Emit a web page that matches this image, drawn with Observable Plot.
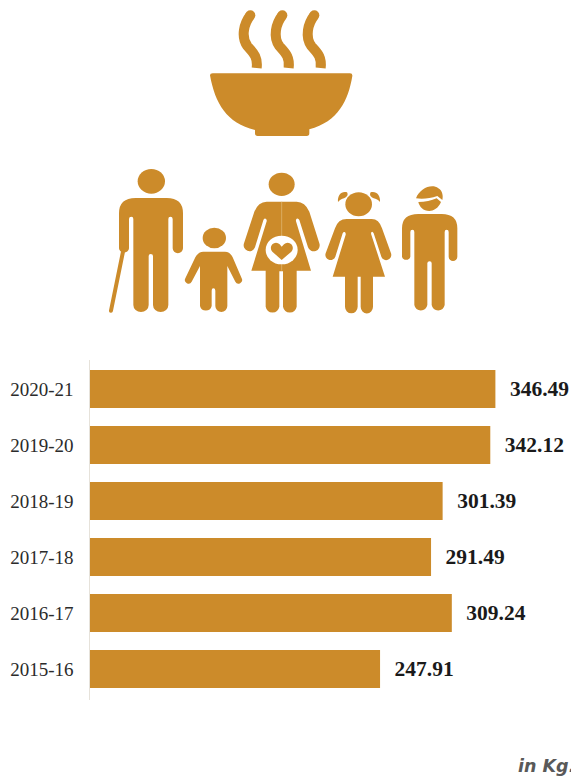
<!DOCTYPE html>
<html>
<head>
<meta charset="utf-8">
<script src="https://cdn.jsdelivr.net/npm/d3@7"></script>
<script src="https://cdn.jsdelivr.net/npm/@observablehq/plot@0.6"></script>
<style>
html,body{margin:0;padding:0;background:#fff;}
#page{position:relative;width:571px;height:781px;overflow:hidden;}
#icons{position:absolute;left:90px;top:0;}
#chart{position:absolute;left:0;top:340px;}
#unit{position:absolute;left:518px;top:756px;font:italic bold 17.5px "DejaVu Sans",sans-serif;color:#595959;white-space:nowrap;}
</style>
</head>
<body>
<div id="page">
<svg id="icons" width="390" height="330" viewBox="0 0 1170 990" fill="#CC8B2A" role="img" aria-label="A steaming bowl above a family of five">
  <g fill="none" stroke="#CC8B2A" stroke-width="30">
    <path d="M481,46 C462,70 452,110 472,138 C490,158 504,170 500,204"/>
    <path d="M577,46 C558,70 548,110 568,138 C586,158 600,170 596,204"/>
    <path d="M673,46 C654,70 644,110 664,138 C682,158 696,170 692,204"/>
  </g>
  <circle cx="481" cy="46" r="15"/><circle cx="577" cy="46" r="15"/><circle cx="673" cy="46" r="15"/>
  <path d="M360,226 Q360,220 368,220 L780,220 Q788,220 787,228 C775,300 745,365 658,388 L658,400 Q658,408 650,408 L503,408 Q495,408 495,400 L495,390 C410,370 375,310 360,226 Z"/>

  <ellipse cx="184" cy="544" rx="41" ry="37"/>
  <path d="M87,640 Q87,594 137,594 L230,594 Q279,594 279,640 L279,745 a15,14 0 0 1 -31,0 L248,657 q0,-7 -7,-7 q-6,0 -6,7 L235,915 a23,21 0 0 1 -46,0 L189,768 q0,-6 -7,-6 q-6,0 -6,6 L176,915 a23,21 0 0 1 -46,0 L130,657 q0,-7 -6,-7 q-7,0 -7,7 L117,745 a15,12 0 0 1 -30,0 Z"/>
  <path d="M100,750 L63,932" fill="none" stroke="#CC8B2A" stroke-width="12" stroke-linecap="round"/>

  <ellipse cx="373" cy="714" rx="35" ry="31"/>
  <path d="M340,755 L405,755 Q420,755 428,772 L455,835 a10,10 0 0 1 -19,10 L412,798 L412,918 a18,18 0 0 1 -36,0 L376,872 q0,-7 -6,-7 q-5,0 -5,7 L365,918 a18,18 0 0 1 -35,0 L330,798 L305,845 a10,10 0 0 1 -19,-10 L316,772 Q325,755 340,755 Z"/>

  <ellipse cx="575" cy="553" rx="39" ry="35"/>
  <path d="M530,605 L620,605 Q645,605 658,635 L688,730 a17,17 0 0 1 -34,12 L628,660 q-3,-6 -8,-4 q-3,2 -2,8 L663,812 L620,812 L620,920 a21,22 0 0 1 -41,0 L579,814 L568,814 L568,920 a21,22 0 0 1 -41,0 L527,812 L484,812 L530,664 q1,-6 -3,-8 q-5,-2 -7,5 L495,742 a17,17 0 0 1 -33,-12 L493,635 Q505,605 530,605 Z"/>
  <path d="M575,605 L575,812" stroke="#E2BC7C" stroke-width="2"/>
  <ellipse cx="575" cy="750" rx="48" ry="43" fill="#fff"/>
  <path d="M575,780 L547,755 a15,15 0 0 1 22,-22 L575,740 L582,733 a15,15 0 0 1 22,22 Z"/>

  <ellipse cx="806" cy="613" rx="40" ry="36"/>
  <path d="M744,606 C742,585 755,572 771,577 C776,585 770,592 762,595 C755,597 750,600 744,606 Z"/>
  <path d="M870,606 C872,585 858,572 842,577 C837,585 843,592 851,595 C858,597 865,600 870,606 Z"/>
  <path d="M770,657 L845,657 Q867,657 876,685 L903,760 a15,15 0 0 1 -29,10 L851,700 q-3,-6 -6,-4 q-3,2 -1,8 L885,830 L849,830 L849,920 a18,20 0 0 1 -37,0 L812,830 L803,830 L803,920 a19,20 0 0 1 -38,0 L765,830 L728,830 L767,704 q1,-6 -3,-8 q-4,-1 -6,4 L736,770 a15,15 0 0 1 -29,-10 L735,685 Q744,657 770,657 Z"/>

  <path d="M978,595 C990,565 1025,550 1045,565 C1058,572 1060,590 1057,600 L1042,588 C1020,595 1000,598 978,595 Z"/>
  <path d="M985,606 C1005,606 1025,602 1040,595 L1053,606 C1045,625 1030,633 1018,633 C1000,633 988,620 985,606 Z"/>
  <path d="M936,685 Q936,642 985,642 L1055,642 Q1102,642 1102,685 L1102,770 a13,13 0 0 1 -26,0 L1076,696 q0,-7 -6,-7 q-6,0 -6,7 L1064,915 a20,21 0 0 1 -39,0 L1025,790 q0,-6 -6,-6 q-7,0 -7,6 L1012,915 a20,21 0 0 1 -39,0 L973,696 q0,-7 -6,-7 q-6,0 -6,7 L961,770 a13,13 0 0 1 -25,0 Z"/>
</svg>
<div id="chart"></div>
<div id="unit">in Kg.</div>
</div>
<script>
const years = ["2020-21", "2019-20", "2018-19", "2017-18", "2016-17", "2015-16"];
const quantities = [346.49, 342.12, 301.39, 291.49, 309.24, 247.91];
const labels = ["346.49", "342.12", "301.39", "291.49", "309.24", "247.91"];
const barColor = "#CC8B2A";

const rows = years.map((year, i) => ({year, quantity: quantities[i], label: labels[i]}));

const chart = Plot.plot({
  width: 571,
  height: 380,
  marginTop: 12,
  marginBottom: 13,
  marginLeft: 90,
  marginRight: 13,
  style: {background: "transparent"},
  x: {domain: [0, 400], axis: null},
  y: {domain: years, padding: 0.32, label: null},
  marks: [
    Plot.axisY({tickSize: 0, tickPadding: 17, fontSize: 19, fontFamily: "Liberation Serif", fill: "#2b2b2b", label: null}),
    Plot.barX(rows, {x: "quantity", y: "year", fill: barColor}),
    Plot.ruleX([0], {stroke: "#e6e2da", strokeWidth: 1, dx: -1, insetTop: 8, insetBottom: 7}),
    Plot.text(rows, {x: "quantity", y: "year", text: "label", textAnchor: "start", dx: 14, fontSize: 21.5, fontWeight: "bold", fontFamily: "Liberation Serif", fill: "#1a1a1a"})
  ]
});
document.getElementById("chart").appendChild(chart);
</script>
</body>
</html>
